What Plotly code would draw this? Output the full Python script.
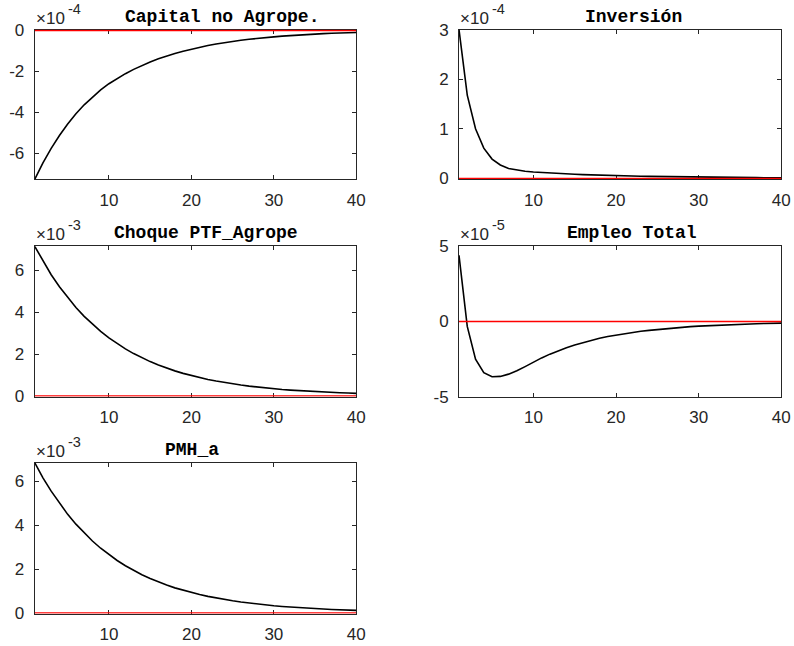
import plotly.graph_objects as go

periods = list(range(1, 41))

titles = ["Capital no Agrope.", "Inversión", "Choque PTF_Agrope", "Empleo Total", "PMH_a"]
exponents = [-4, -4, -3, -5, -3]

capital = [-7.27, -6.47, -5.76, -5.13, -4.57, -4.07, -3.63, -3.24, -2.90, -2.60,
           -2.34, -2.11, -1.90, -1.71, -1.54, -1.38, -1.24, -1.12, -1.01, -0.91,
           -0.82, -0.73, -0.66, -0.59, -0.53, -0.48, -0.43, -0.38, -0.34, -0.31,
           -0.275, -0.245, -0.22, -0.195, -0.173, -0.154, -0.137, -0.122, -0.109, -0.097]
inversion = [3.0, 1.68, 1.0, 0.61, 0.39, 0.27, 0.20, 0.165, 0.145, 0.13,
             0.118, 0.108, 0.099, 0.091, 0.083, 0.077, 0.07, 0.065, 0.06, 0.055,
             0.051, 0.047, 0.043, 0.04, 0.037, 0.034, 0.031, 0.029, 0.027, 0.025,
             0.023, 0.021, 0.019, 0.018, 0.017, 0.016, 0.015, 0.014, 0.013, 0.012]
choque = [7.16, 6.444, 5.800, 5.220, 4.698, 4.228, 3.805, 3.425, 3.082, 2.774,
          2.497, 2.247, 2.022, 1.820, 1.638, 1.474, 1.327, 1.194, 1.075, 0.967,
          0.870, 0.783, 0.705, 0.635, 0.571, 0.514, 0.463, 0.416, 0.375, 0.337,
          0.303, 0.273, 0.246, 0.221, 0.199, 0.179, 0.161, 0.145, 0.131, 0.118]
empleo = [4.4, -0.33, -2.5, -3.4, -3.67, -3.65, -3.5, -3.28, -3.0, -2.7,
          -2.42, -2.17, -1.94, -1.74, -1.56, -1.40, -1.25, -1.12, -1.0, -0.90,
          -0.81, -0.73, -0.65, -0.59, -0.53, -0.47, -0.43, -0.38, -0.34, -0.31,
          -0.28, -0.25, -0.225, -0.2, -0.18, -0.163, -0.147, -0.132, -0.119, -0.107]
pmh = [6.86, 6.17, 5.56, 5.00, 4.50, 4.05, 3.65, 3.28, 2.95, 2.66,
       2.39, 2.15, 1.94, 1.74, 1.57, 1.41, 1.27, 1.14, 1.03, 0.926,
       0.834, 0.750, 0.675, 0.608, 0.547, 0.492, 0.443, 0.399, 0.359, 0.323,
       0.291, 0.262, 0.235, 0.212, 0.191, 0.172, 0.154, 0.139, 0.125, 0.113]

series = [capital, inversion, choque, empleo, pmh]

y_ranges = [(-7.27, 0.0), (0.0, 3.0), (0.0, 7.16), (-5.0, 5.0), (0.0, 6.86)]
y_ticks = [[-6, -4, -2, 0], [0, 1, 2, 3], [0, 2, 4, 6], [-5, 0, 5], [0, 2, 4, 6]]
x_ticks = [10, 20, 30, 40]

W, H = 794, 646
col_px = [(34.7, 356.3), (459.0, 781.3)]
row_px = [(29.6, 179.3), (246.3, 396.7), (462.7, 613.7)]
positions = [(0, 0), (0, 1), (1, 0), (1, 1), (2, 0)]
title_center_px = [221.7, 633.3, 205.8, 631.7, 191.7]

fig = go.Figure()
layout = dict(
    width=W, height=H, margin=dict(l=0, r=0, t=0, b=0, pad=0, autoexpand=False),
    paper_bgcolor="white", plot_bgcolor="white", showlegend=False,
    font=dict(family="Liberation Sans, Arial, sans-serif", size=17, color="#262626"),
)
annotations = []
axis_col = "#262626"
sans = "Liberation Sans, Arial, sans-serif"

for i, (vals, title, ex) in enumerate(zip(series, titles, exponents)):
    r, c = positions[i]
    n = "" if i == 0 else str(i + 1)
    scale = 10.0 ** ex
    yv = [v * scale for v in vals]
    lo, hi = y_ranges[i]
    span = hi - lo
    pad = span * 0.006
    x0, x1 = col_px[c]
    top, bot = row_px[r]
    xd = [x0 / W, x1 / W]
    yd = [1 - bot / H, 1 - top / H]
    fig.add_trace(go.Scatter(x=periods, y=yv, mode="lines",
                             line=dict(color="black", width=1.6),
                             xaxis="x" + n, yaxis="y" + n, hoverinfo="skip"))
    fig.add_trace(go.Scatter(x=[periods[0], periods[-1]], y=[0.0, 0.0], mode="lines",
                             line=dict(color="rgb(255,0,0)", width=1.3),
                             xaxis="x" + n, yaxis="y" + n, hoverinfo="skip"))
    common = dict(showgrid=False, zeroline=False, showline=True, linecolor=axis_col,
                  linewidth=1, mirror="ticks", ticks="inside", ticklen=4,
                  tickcolor=axis_col, tickwidth=1, layer="below traces",
                  automargin=False,
                  tickfont=dict(family=sans, size=17, color="#262626"))
    layout["xaxis" + n] = dict(domain=xd, anchor="y" + n, range=[1, 40],
                               tickvals=x_ticks, ticktext=[str(t) for t in x_ticks],
                               ticklabelstandoff=5, **common)
    layout["yaxis" + n] = dict(domain=yd, anchor="x" + n,
                               range=[(lo - pad) * scale if lo == 0 else lo * scale,
                                      (hi + pad) * scale if hi == 0 else hi * scale],
                               tickvals=[t * scale for t in y_ticks[i]],
                               ticktext=[str(t) for t in y_ticks[i]],
                               ticklabelstandoff=6, **common)
    annotations.append(dict(xref="paper", yref="paper", x=title_center_px[i] / W, y=yd[1],
                            xanchor="center", yanchor="bottom", yshift=1, showarrow=False,
                            text="<b>" + title + "</b>",
                            font=dict(family="Liberation Mono, Courier New, monospace",
                                      size=18, color="black")))
    annotations.append(dict(xref="paper", yref="paper", x=xd[0], y=yd[1],
                            xanchor="left", yanchor="bottom", yshift=0, xshift=-1,
                            showarrow=False, text="×10",
                            font=dict(family=sans, size=17, color="#262626")))
    annotations.append(dict(xref="paper", yref="paper", x=xd[0], y=yd[1],
                            xanchor="left", yanchor="bottom", yshift=11, xshift=31,
                            showarrow=False, text=str(ex),
                            font=dict(family=sans, size=14.5, color="#262626")))

layout["annotations"] = annotations
fig.update_layout(**layout)
fig.write_html("out.html", config={"displayModeBar": False},
               post_script="document.body.style.margin='0';document.body.style.padding='0';"
                           "document.body.style.overflow='hidden';")
